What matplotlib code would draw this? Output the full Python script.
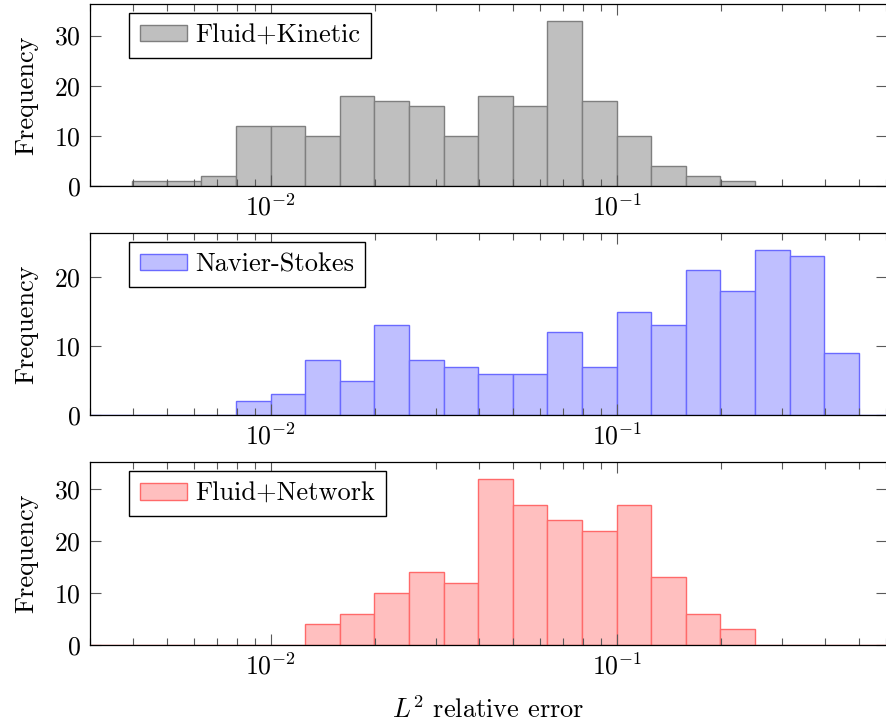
import numpy as np
import matplotlib
matplotlib.use("Agg")
import matplotlib.pyplot as plt
from matplotlib.ticker import LogLocator, NullFormatter, LogFormatterMathtext

plt.rcParams['font.family'] = ['cmr10', 'DejaVu Serif']
plt.rcParams['mathtext.fontset'] = 'cm'
plt.rcParams['axes.formatter.use_mathtext'] = True
plt.rcParams['axes.unicode_minus'] = False

# Bins are 0.1 decade wide; each series listed from its first non-empty bin
BIN_WIDTH_DEC = 0.1
fk_start = -2.4
fk_counts = [1, 1, 2, 12, 12, 10, 18, 17, 16, 10, 18, 16, 33, 17, 10, 4, 2, 1]
ns_start = -2.1
ns_counts = [2, 3, 8, 5, 13, 8, 7, 6, 6, 12, 7, 15, 13, 21, 18, 24, 23, 9]
fn_start = -1.9
fn_counts = [4, 6, 10, 14, 12, 32, 27, 24, 22, 27, 13, 6, 3]

labels = ["Fluid+Kinetic", "Navier-Stokes", "Fluid+Network"]
fills = ["#bfbfbf", "#bfbfff", "#ffbfbf"]
edges = ["#7f7f7f", "#6a6aff", "#ff6a6a"]

XMIN_EXP, XMAX_EXP = -2.5237, -0.2202
FS = 18.5
FS_LEG = 19

W, H = 886, 725
fig = plt.figure(figsize=(W / 100, H / 100), dpi=100)

panels = [(4, 186), (233, 415), (462, 645)]
left_px, right_px = 89.5, 886.5

series = [(fk_start, fk_counts), (ns_start, ns_counts), (fn_start, fn_counts)]

axes = []
for i, ((top, bot), (start, counts)) in enumerate(zip(panels, series)):
    ax = fig.add_axes([left_px / W, 1 - bot / H, (right_px - left_px) / W, (bot - top) / H])
    axes.append(ax)
    n_before = int(round((start - (-2.6)) / BIN_WIDTH_DEC))
    all_counts = [0] * n_before + list(counts)
    n_after = int(round((-0.1 - (start + BIN_WIDTH_DEC * len(counts))) / BIN_WIDTH_DEC))
    all_counts += [0] * n_after
    lefts_exp = -2.6 + BIN_WIDTH_DEC * np.arange(len(all_counts))
    lefts = 10.0 ** lefts_exp
    widths = 10.0 ** (lefts_exp + BIN_WIDTH_DEC) - lefts
    ax.bar(lefts, all_counts, width=widths, align='edge', color=fills[i],
           edgecolor=edges[i], linewidth=1.0, label=labels[i])
    ax.set_xscale('log')
    ax.set_xlim(10 ** XMIN_EXP, 10 ** XMAX_EXP)
    ax.set_ylim(0, 1.1 * max(counts))
    ax.xaxis.set_major_locator(LogLocator(base=10, numticks=10))
    ax.xaxis.set_minor_locator(LogLocator(base=10, subs=np.arange(2, 10), numticks=100))
    ax.xaxis.set_major_formatter(LogFormatterMathtext())
    ax.xaxis.set_minor_formatter(NullFormatter())
    ax.set_yticks([0, 10, 20, 30] if max(counts) > 30 else [0, 10, 20])
    ax.tick_params(which='both', direction='in', top=True, right=True,
                   labelsize=FS, color='0.35', width=0.8, pad=6)
    ax.tick_params(which='major', length=8)
    ax.tick_params(which='minor', length=5)
    for s in ax.spines.values():
        s.set_linewidth(0.9)
        s.set_color('black')
    ax.set_ylabel("Frequency", fontsize=FS_LEG, labelpad=12)
    leg = ax.legend(loc='upper left', bbox_to_anchor=(0.05, 0.95), borderaxespad=0,
                    fontsize=FS_LEG, fancybox=False, framealpha=1, edgecolor='black',
                    handlelength=1.8, handleheight=0.6, handletextpad=0.3,
                    borderpad=0.4)
    leg.get_frame().set_linewidth(1.0)

axes[-1].set_xlabel("$L^2$ relative error", fontsize=FS_LEG, labelpad=12)

fig.savefig("out.png", dpi=100)
